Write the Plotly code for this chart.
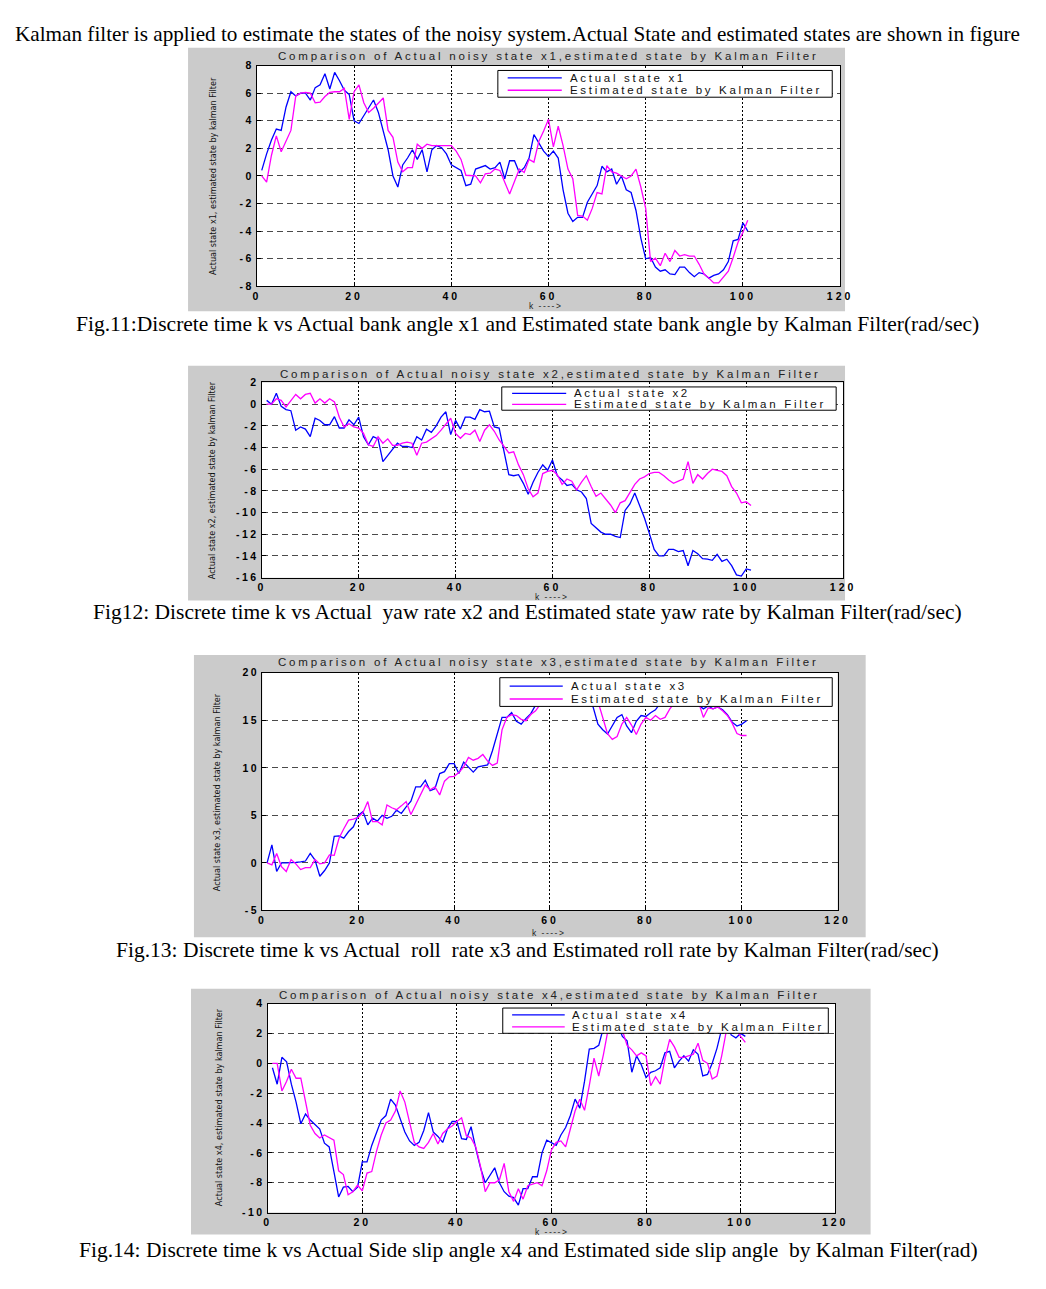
import plotly.graph_objects as go

# reference page is 1046x1289; the html body keeps its default 8px margin,
# so the figure itself is 16px smaller and everything is placed in page pixels
PAGE_W, PAGE_H = 1046, 1289
OFF = 8
W, H = PAGE_W - 2 * OFF, PAGE_H - 2 * OFF

# ---------------- data ----------------
k = list(range(1, 102))

x1_actual = [0.4, 1.6, 2.6, 3.4, 3.3, 5.0, 6.1, 5.8, 6.0, 6.0,
             5.5, 6.4, 6.6, 7.4, 6.3, 7.5, 6.9, 6.2, 5.9, 4.0,
             3.8, 4.4, 5.0, 5.5, 4.6, 3.3, 1.9, 0.0, -0.8, 0.8,
             1.3, 1.9, 1.2, 1.9, 0.3, 1.9, 2.2, 2.05, 1.6, 0.8,
             0.6, 0.4, -0.7, -0.6, 0.5, 0.6, 0.75, 0.5, 0.6, 1.0,
             -0.2, 1.1, 1.1, 0.25, 0.6, 1.3, 3.0, 2.4, 1.8, 1.4,
             1.8, 1.3, -1.0, -2.7, -3.3, -3.0, -3.0, -1.9, -1.3, -0.7,
             0.7, 0.3, 0.5, -0.6, 0.0, -1.0, -1.2, -2.5, -4.5, -6.0,
             -5.9, -6.6, -6.9, -6.8, -7.1, -7.15, -6.6, -6.6, -7.0, -7.3,
             -7.0, -7.1, -7.4, -7.2, -7.1, -6.8, -6.2, -4.7, -4.6, -3.4,
             -4.0]
x1_estimated = [0.0, -0.45, 1.5, 2.9, 1.75, 2.5, 3.3, 5.8, 6.0, 6.05,
                6.0, 5.3, 5.35, 5.75, 6.05, 6.1, 6.1, 6.35, 4.1, 6.1,
                6.6, 5.3, 4.6, 4.9, 5.3, 5.65, 3.3, 2.8, 1.0, 0.3,
                0.6, 0.6, 2.3, 2.0, 2.3, 2.2, 2.2, 2.2, 2.2, 2.2,
                1.8, 1.2, 0.05, 0.05, 0.0, -0.5, 0.15, 0.2, 0.5, 0.4,
                -0.4, -1.3, -0.4, 0.5, 0.25, 1.2, 1.0, 2.5, 3.25, 4.1,
                2.1, 3.6, 2.2, 0.5, -0.2, -2.85, -2.9, -3.2, -2.35, -1.2,
                -1.3, 0.75, 0.3, 0.2, 0.0, -0.2, 0.0, 0.5, -0.8, -2.35,
                -6.2, -5.95, -6.5, -5.6, -6.2, -5.4, -5.8, -5.7, -5.8, -5.8,
                -6.4, -7.1, -7.4, -7.75, -7.75, -7.3, -6.9, -5.9, -4.8, -4.1,
                -3.2]

x2_actual = [0.35, 0.0, 1.0, -0.2, -0.5, -0.6, -2.4, -2.1, -2.3, -3.0,
             -1.3, -1.5, -1.9, -1.9, -1.15, -2.2, -2.2, -1.45, -1.9, -1.2,
             -3.0, -3.75, -3.0, -3.2, -5.3, -4.7, -4.2, -3.6, -3.9, -3.9,
             -4.0, -3.0, -3.3, -2.3, -2.6, -2.0, -1.2, -0.7, -2.8, -1.5,
             -2.3, -1.2, -1.2, -1.4, -0.5, -0.7, -0.65, -2.1, -2.2, -4.4,
             -6.5, -6.6, -6.5, -7.3, -8.3, -7.2, -6.3, -5.6, -6.1, -5.15,
             -6.6, -7.0, -7.5, -7.4, -7.9, -8.1, -8.7, -11.0, -11.4, -11.8,
             -12.0, -12.0, -12.2, -12.3, -9.8, -9.2, -8.2, -9.3, -10.5, -11.9,
             -13.4, -14.0, -14.0, -13.4, -13.4, -13.6, -13.5, -14.9, -13.5, -13.8,
             -14.25, -14.3, -14.4, -13.85, -14.5, -14.3, -14.9, -15.75, -15.85, -15.2,
             -15.3]
x2_estimated = [0.0, 0.0, 0.5, 0.35, -0.25, 0.3, 0.9, 0.5, 0.9, 1.0,
                0.1, 0.5, 0.1, 0.5, 0.2, -1.2, -2.1, -1.8, -2.1, -2.2,
                -2.7, -3.75, -3.9, -3.0, -3.6, -3.2, -3.8, -3.8, -3.6, -3.5,
                -3.6, -4.7, -3.6, -3.5, -3.2, -2.9, -2.4, -1.8, -1.3, -2.7,
                -3.15, -2.7, -2.8, -2.4, -3.45, -2.4, -1.9, -2.5, -3.3, -3.9,
                -4.5, -4.4, -5.6, -6.5, -7.8, -8.55, -8.2, -6.4, -6.2, -6.1,
                -6.5, -7.4, -6.9, -7.1, -7.9, -7.2, -6.6, -7.6, -8.5, -8.2,
                -8.7, -9.3, -10.0, -9.1, -8.9, -8.1, -7.4, -6.9, -6.7, -6.4,
                -6.3, -6.3, -6.6, -7.0, -7.3, -7.1, -6.9, -5.3, -7.3, -6.5,
                -6.9, -6.4, -6.0, -6.1, -6.2, -6.6, -7.6, -8.2, -9.1, -9.0,
                -9.35]

x3_actual = [0.0, 1.9, -0.9, 0.0, 0.0, 0.0, 0.05, 0.1, 0.2, 1.0,
             0.3, -1.4, -0.8, 0.0, 2.8, 2.85, 2.6, 3.3, 3.8, 5.0,
             5.4, 4.0, 4.7, 4.4, 5.0, 4.7, 4.9, 5.55, 5.2, 5.9,
             6.5, 8.0, 8.0, 8.7, 7.6, 7.8, 9.4, 9.6, 10.45, 10.45,
             9.4, 10.6, 10.1, 9.55, 10.1, 10.2, 10.3, 11.8, 13.5, 15.3,
             15.3, 15.8, 14.9, 14.6, 15.2, 15.7, 16.6, 17.4, 18.0, 17.6,
             18.3, 18.9, 18.5, 19.2, 18.8, 18.1, 17.5, 17.0, 16.4, 14.6,
             14.0, 13.55, 14.5, 15.3, 15.6, 14.4, 13.7, 14.9, 15.5, 15.4,
             15.8, 16.1, 16.8, 17.5, 18.2, 17.9, 18.6, 18.3, 17.8, 17.2,
             16.6, 16.2, 16.5, 16.2, 16.4, 16.1, 15.6, 14.8, 14.4, 14.6,
             14.95]
x3_estimated = [0.0, -0.2, 1.0, -0.4, -0.9, 0.35, -0.1, -0.7, -0.5, -0.5,
                0.35, -0.1, 0.0, 0.85, 0.8, 2.6, 3.6, 4.5, 4.6, 4.8,
                5.3, 6.45, 4.35, 4.35, 4.0, 6.1, 5.8, 5.6, 6.0, 6.45,
                5.1, 6.1, 7.15, 8.2, 7.7, 8.0, 7.15, 8.6, 9.05, 9.1,
                9.5, 10.1, 11.1, 10.8, 11.0, 11.4, 10.7, 10.25, 10.5, 14.0,
                15.3, 15.6, 15.5, 15.1, 14.95, 15.6, 16.0, 16.7, 17.2, 17.9,
                17.5, 18.2, 18.6, 18.3, 19.0, 18.6, 18.0, 17.6, 17.2, 17.0,
                15.3, 13.6, 13.0, 13.3, 14.6, 15.3, 14.5, 13.5, 14.6, 15.3,
                15.0, 15.5, 15.1, 15.3, 16.2, 16.8, 17.5, 17.2, 17.9, 17.4,
                16.9, 15.3, 16.3, 16.2, 16.4, 16.0, 15.5, 14.7, 13.6, 13.4,
                13.4]

x4_actual = [-0.3, -1.4, 0.4, 0.1, -1.4, -2.6, -4.05, -3.4, -3.8, -4.1,
             -4.4, -5.35, -5.6, -7.25, -8.95, -8.3, -8.25, -8.6, -8.3, -6.6,
             -6.6, -5.5, -4.6, -3.8, -3.5, -2.4, -2.8, -3.7, -4.6, -5.2,
             -5.5, -5.3, -4.5, -3.3, -4.6, -4.9, -5.3, -4.4, -3.9, -3.9,
             -5.05, -5.1, -4.25, -5.7, -7.0, -8.0, -7.5, -7.0, -8.0, -8.6,
             -8.9, -9.0, -9.5, -8.4, -8.4, -7.6, -7.6, -6.0, -5.15, -5.3,
             -5.5, -4.8, -4.3, -3.5, -2.4, -3.0, -1.2, 0.95, 1.0, 1.2,
             2.4, 3.2, 3.0, 2.6, 1.8, 1.5, -0.6, 0.5, -0.1, -0.95,
             -0.6, -0.5, -0.3, 0.7, 0.8, -0.3, 0.15, 0.5, 0.15, 0.9,
             0.6, -0.85, -0.75, 0.0, 1.0, 2.3, 2.9, 1.9, 1.7, 2.0,
             1.8]
x4_estimated = [0.0, 0.0, -1.85, -1.2, -0.4, -1.0, -1.0, -2.6, -4.15, -4.7,
                -5.0, -4.8, -5.0, -5.15, -7.2, -7.45, -8.8, -8.6, -8.15, -8.55,
                -7.35, -7.25, -5.9, -4.8, -4.0, -3.8, -3.2, -1.85, -2.6, -4.0,
                -5.3, -5.6, -5.7, -5.3, -4.7, -5.4, -4.7, -4.4, -4.2, -3.9,
                -3.65, -4.85, -5.0, -5.6, -6.9, -8.6, -8.0, -8.0, -7.8, -6.7,
                -8.6, -9.25, -8.4, -9.1, -8.2, -8.1, -8.0, -8.2, -7.2, -5.8,
                -5.3, -5.2, -5.6, -4.4, -3.2, -2.4, -3.15, -1.5, 0.35, -0.85,
                0.6, 2.3, 3.0, 2.8, 2.2, 1.2, 0.9, 0.5, 0.7, 0.5,
                -1.5, -0.9, -1.4, 0.3, 1.6, 1.1, 0.4, 0.4, 0.5, 0.6,
                1.35, 0.2, 0.0, -1.05, -0.85, 0.5, 2.2, 2.6, 2.3, 1.8,
                1.4]

x_ticks = [0, 20, 40, 60, 80, 100, 120]
y_ticks = [
    [-8, -6, -4, -2, 0, 2, 4, 6, 8],
    [-16, -14, -12, -10, -8, -6, -4, -2, 0, 2],
    [-5, 0, 5, 10, 15, 20],
    [-10, -8, -6, -4, -2, 0, 2, 4],
]
y_ranges = [[-8, 8], [-16, 2], [-5, 20], [-10, 4]]
actual_series = [x1_actual, x2_actual, x3_actual, x4_actual]
estimated_series = [x1_estimated, x2_estimated, x3_estimated, x4_estimated]
state_names = ["x1", "x2", "x3", "x4"]

heading = ("Kalman filter is applied to estimate the states of the noisy system."
           "Actual State and estimated states are shown in figure")
captions = [
    "Fig.11:Discrete time k vs Actual bank angle x1 and Estimated state bank angle by Kalman Filter(rad/sec)",
    "Fig12: Discrete time k vs Actual\u00a0 yaw rate x2 and Estimated state yaw rate by Kalman Filter(rad/sec)",
    "Fig.13: Discrete time k vs Actual\u00a0 roll\u00a0 rate x3 and Estimated roll rate by Kalman Filter(rad/sec)",
    "Fig.14: Discrete time k vs Actual Side slip angle x4 and Estimated side slip angle\u00a0 by Kalman Filter(rad)",
]

# ---------------- layout geometry (page pixels) ----------------
plot_px = [(257, 850, 60, 283), (262, 853, 380, 577), (262.5, 847.5, 673, 913), (268, 845, 1007, 1218)]
gray_px = [(187, 855, 42, 308), (187, 855, 363, 600), (193, 876, 655, 940), (190, 881, 992, 1240)]
title_px = [(553, 50), (556, 371), (553, 662), (555, 998)]
xlabel_px = [(550, 303), (557, 596.5), (553, 936), (557, 1237.5)]
ylabel_px = [(213, 172), (211, 479), (216, 794), (218, 1112)]
caption_px = [(532, 321), (532, 612), (532, 953), (533, 1256)]
legend_px = [  # box l, r, t, b, sample x0, x1, text x, row1 y, row2 y
    (502, 842, 65, 92, 512, 567, 573, 72.5, 85),
    (506, 846, 384.5, 408, 516.5, 571.5, 577, 391, 402),
    (504, 842, 678, 707, 514, 568, 574, 686.5, 699.5),
    (507, 838, 1011.5, 1037, 516.5, 570, 575, 1018.5, 1030.5),
]


def fx(p):
    return (p - OFF) / W


def fy(p):
    return 1 - (p - OFF) / H


def spaced(t, ls=2.4):
    return f'<span style="letter-spacing:{ls}px">{t}</span>'


SANS = "Liberation Sans, Arial, sans-serif"
SERIF = "Liberation Serif, Times New Roman, serif"
NARROW = "Liberation Sans Narrow, DejaVu Sans Condensed, Arial Narrow, sans-serif"

fig = go.Figure()
shapes = []
annotations = []
layout_axes = {}

for i in range(4):
    n = "" if i == 0 else str(i + 1)
    xa, ya = "x" + n, "y" + n
    l, r, t, b = plot_px[i]
    fig.add_trace(go.Scatter(x=k, y=actual_series[i], mode="lines",
                             line=dict(color="#0000ff", width=1.3),
                             name=f"Actual state {state_names[i]}",
                             xaxis=xa, yaxis=ya, showlegend=False))
    fig.add_trace(go.Scatter(x=k, y=estimated_series[i], mode="lines",
                             line=dict(color="#ff00ff", width=1.3),
                             name="Estimated state by Kalman Filter",
                             xaxis=xa, yaxis=ya, showlegend=False))
    tickfont = dict(family=SANS, size=10.5, color="black", weight="bold")
    layout_axes["xaxis" + n] = dict(
        domain=[fx(l), fx(r)], anchor=ya, range=[0, 120],
        tickvals=x_ticks, ticktext=[spaced(v, 3) for v in x_ticks],
        ticks="inside", ticklen=4, tickcolor="black", tickfont=tickfont,
        showline=True, mirror=True, linecolor="black", linewidth=1,
        showgrid=True, gridcolor="black", griddash="2px,2px", gridwidth=1,
        zeroline=False, fixedrange=True)
    layout_axes["yaxis" + n] = dict(
        domain=[fy(b), fy(t)], anchor=xa, range=y_ranges[i],
        tickvals=y_ticks[i], ticktext=[spaced(v, 2.5) for v in y_ticks[i]],
        ticks="inside", ticklen=4, tickcolor="black", tickfont=tickfont,
        showline=True, mirror=True, linecolor="black", linewidth=1,
        showgrid=True, gridcolor="#4a4a4a", griddash="6px,4px", gridwidth=1,
        zeroline=False, fixedrange=True)

    gl, gr, gt, gb = gray_px[i]
    shapes.append(dict(type="rect", xref="paper", yref="paper", layer="below",
                       x0=fx(gl), x1=fx(gr), y0=fy(gb), y1=fy(gt),
                       fillcolor="#cbcbcb", line=dict(width=0)))
    shapes.append(dict(type="rect", xref=xa + " domain", yref=ya + " domain", layer="below",
                       x0=0, x1=1, y0=0, y1=1, fillcolor="white", line=dict(width=0)))

    # legend box (MATLAB style, opaque, drawn over the lines)
    bl, br, bt, bb, sx0, sx1, tx, r1, r2 = legend_px[i]
    shapes.append(dict(type="rect", xref="paper", yref="paper", layer="above",
                       x0=fx(bl), x1=fx(br), y0=fy(bb), y1=fy(bt),
                       fillcolor="white", line=dict(color="black", width=1)))
    for yy, col in ((r1, "#0000ff"), (r2, "#ff00ff")):
        shapes.append(dict(type="line", xref="paper", yref="paper", layer="above",
                           x0=fx(sx0), x1=fx(sx1), y0=fy(yy), y1=fy(yy),
                           line=dict(color=col, width=1.3)))
    for yy, txt in ((r1, f"Actual state {state_names[i]}"), (r2, "Estimated state by Kalman Filter")):
        annotations.append(dict(xref="paper", yref="paper", x=fx(tx), y=fy(yy),
                                xanchor="left", yanchor="middle", showarrow=False,
                                text=spaced(txt, 2.7),
                                font=dict(family=SANS, size=11.5, color="#111")))

    annotations.append(dict(xref="paper", yref="paper", x=fx(title_px[i][0]), y=fy(title_px[i][1]),
                            xanchor="center", yanchor="middle", showarrow=False,
                            text=spaced(f"Comparison of Actual noisy state {state_names[i]},"
                                        f"estimated state by Kalman Filter", 2.8),
                            font=dict(family=SANS, size=11.5, color="#222")))
    annotations.append(dict(xref="paper", yref="paper", x=fx(xlabel_px[i][0]), y=fy(xlabel_px[i][1]),
                            xanchor="center", yanchor="middle", showarrow=False,
                            text=spaced("k ---->", 1.5),
                            font=dict(family=SANS, size=8.5, color="#222")))
    annotations.append(dict(xref="paper", yref="paper", x=fx(ylabel_px[i][0]), y=fy(ylabel_px[i][1]),
                            xanchor="center", yanchor="middle", showarrow=False, textangle=-90,
                            text=f"Actual state {state_names[i]}, estimated state by kalman Filter",
                            font=dict(family=NARROW, size=9, color="#111")))
    annotations.append(dict(xref="paper", yref="paper", x=fx(caption_px[i][0]), y=fy(caption_px[i][1]),
                            xanchor="center", yanchor="middle", showarrow=False,
                            text=captions[i],
                            font=dict(family=SERIF, size=21.5, color="black")))

annotations.append(dict(xref="paper", yref="paper", x=fx(522), y=fy(28),
                        xanchor="center", yanchor="middle", showarrow=False,
                        text=heading, font=dict(family=SERIF, size=21.2, color="black")))

fig.update_layout(
    width=W, height=H, autosize=False,
    margin=dict(l=0, r=0, t=0, b=0),
    paper_bgcolor="white", plot_bgcolor="white",
    showlegend=False, shapes=shapes, annotations=annotations,
    **layout_axes,
)

fig.write_html("out.html", config={"displayModeBar": False, "staticPlot": True})
